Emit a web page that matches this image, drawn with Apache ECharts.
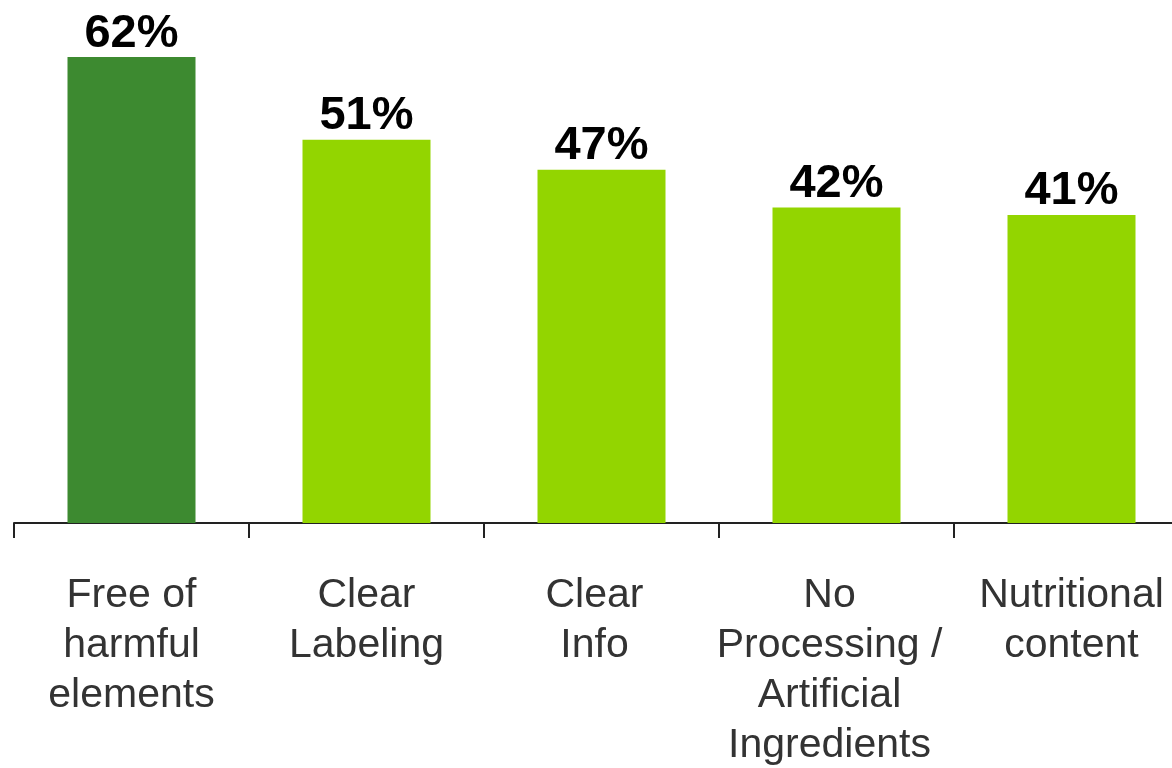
<!DOCTYPE html>
<html>
<head>
<meta charset="utf-8">
<script src="https://cdn.jsdelivr.net/npm/echarts@6/dist/echarts.min.js"></script>
<style>
  html, body { margin: 0; padding: 0; background: #ffffff; }
  #chart { width: 1172px; height: 768px; }
</style>
</head>
<body>
<div id="chart"></div>
<script>
// Survey attributes and share of respondents (%)
const categories = [
  'Free of\nharmful\nelements',
  'Clear\nLabeling',
  'Clear\nInfo',
  'No\nProcessing /\nArtificial\nIngredients',
  'Nutritional\ncontent'
];
const values = [62, 51, 47, 42, 41];
const barColors = ['#3d8a30', '#93d500', '#93d500', '#93d500', '#93d500'];
// right padding nudges a wrapped label slightly left of its bar
const labelNudge = [0, 0, 14, 14, 0];

const chart = echarts.init(document.getElementById('chart'));
chart.setOption({
  animation: false,
  grid: { left: 14, top: 0, width: 1175, height: 523, outerBoundsMode: 'none', containLabel: false },
  xAxis: {
    type: 'category',
    data: categories.map((c, i) => ({
      value: c,
      textStyle: { padding: [0, labelNudge[i], 0, 0] }
    })),
    axisLine: { lineStyle: { color: '#222222', width: 2 } },
    axisTick: { show: true, length: 15, lineStyle: { color: '#222222', width: 2 } },
    axisLabel: {
      interval: 0,
      margin: 48,
      color: '#333333',
      fontFamily: 'Liberation Sans, Arial, sans-serif',
      fontSize: 41,
      lineHeight: 50,
      align: 'center',
      hideOverlap: false
    }
  },
  yAxis: {
    type: 'value',
    min: 0,
    max: 69.6,
    show: false,
    splitLine: { show: false }
  },
  series: [{
    type: 'bar',
    data: values.map((v, i) => ({ value: v, itemStyle: { color: barColors[i] } })),
    barWidth: 128,
    label: {
      show: true,
      position: 'top',
      distance: 0,
      formatter: p => p.value + '%',
      color: '#000000',
      fontFamily: 'Liberation Sans, Arial, sans-serif',
      fontWeight: 'bold',
      fontSize: 47
    }
  }]
});
</script>
</body>
</html>
